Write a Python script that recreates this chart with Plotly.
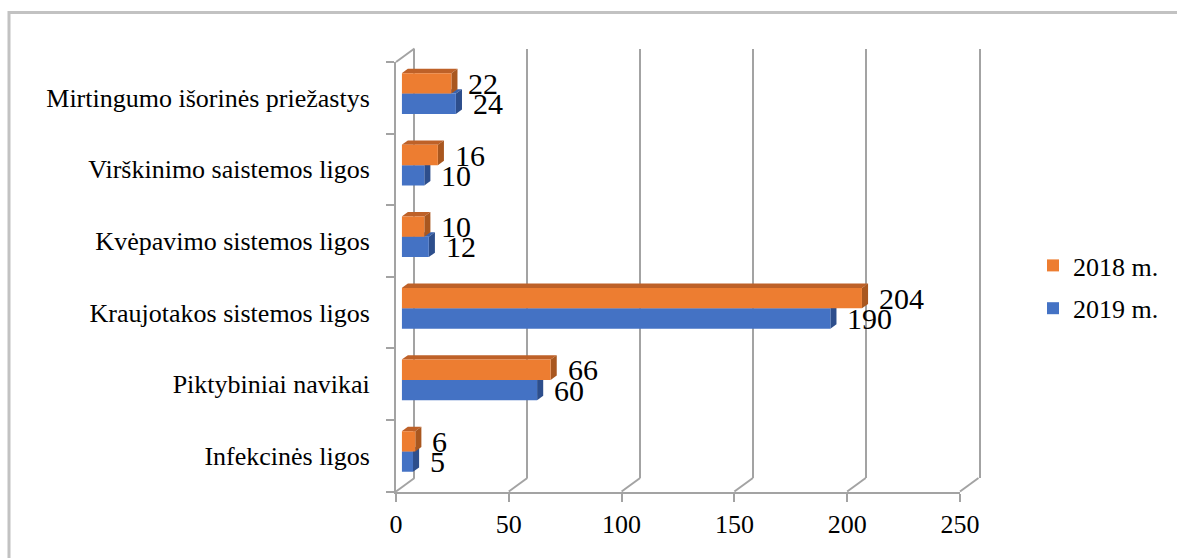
import plotly.graph_objects as go

# ---- data -------------------------------------------------------------
categories = [
    "Infekcinės ligos",
    "Piktybiniai navikai",
    "Kraujotakos sistemos ligos",
    "Kvėpavimo sistemos ligos",
    "Virškinimo saistemos ligos",
    "Mirtingumo išorinės priežastys",
]
values_2018 = [6, 66, 204, 10, 16, 22]
values_2019 = [5, 60, 190, 12, 10, 24]
series_names = ["2018 m.", "2019 m."]
x_ticks = [0, 50, 100, 150, 200, 250]
x_range = [0, 250]

# ---- styling / geometry (pixels) ---------------------------------------
W, H = 1177, 558
FX0, FX1 = 396.0, 960.0      # front floor edge: value 0 .. 250
FY0, FY1 = 62.0, 491.5       # front wall: top .. bottom
DX, DY = 18.5, 13.5          # front plane -> back wall offset
BAR_FRONT = 0.31             # depth fraction of the bar front faces
BAR_DEPTH = 0.33             # depth fraction taken by the bars
BAR_W = 0.284                # bar thickness in category units

ORANGE, ORANGE_TOP, ORANGE_SIDE = "#ED7D31", "#BE6128", "#A9571F"
BLUE, BLUE_TOP, BLUE_SIDE = "#4472C4", "#3A63AE", "#2D4E8C"
GRID = "#A3A3A3"
FONT = "Liberation Serif"

n = len(categories)
y_range = [-0.5, n - 0.5]
px_per_unit = (FX1 - FX0) / (x_range[1] - x_range[0])
px_per_cat = (FY1 - FY0) / n


def px(xp):
    return xp / W


def py(yp):
    return 1 - yp / H


def domains(frac):
    ox, oy = DX * frac, DY * frac
    return [px(FX0 + ox), px(FX1 + ox)], [py(FY1 - oy), py(FY0 - oy)]


back_x, back_y = domains(1.0)
bar_x, bar_y = domains(BAR_FRONT)
front_x, front_y = domains(0.0)

fig = go.Figure()

# empty traces so that the back-wall and front-edge subplots get drawn
for xa, ya in [("x", "y"), ("x3", "y3")]:
    fig.add_trace(go.Scatter(x=[], y=[], xaxis=xa, yaxis=ya,
                             showlegend=False, hoverinfo="skip"))

# bars (front faces) on the bar plane axes
idx = list(range(n))
fig.add_trace(go.Bar(
    x=values_2019, y=idx, orientation="h", width=BAR_W, offset=-BAR_W,
    marker=dict(color=BLUE, line=dict(width=0)), name=series_names[1],
    xaxis="x2", yaxis="y2", legendrank=2, legendgroup="b", hoverinfo="x",
))
fig.add_trace(go.Bar(
    x=values_2018, y=idx, orientation="h", width=BAR_W, offset=0,
    marker=dict(color=ORANGE, line=dict(width=0)), name=series_names[0],
    xaxis="x2", yaxis="y2", legendrank=1, legendgroup="a", hoverinfo="x",
))

# 3-D top and side faces of each bar
ddx = DX * BAR_DEPTH / px_per_unit
ddy = DY * BAR_DEPTH / px_per_cat
shapes = []
for vals, lo, top_c, side_c in [
    (values_2019, -BAR_W, BLUE_TOP, BLUE_SIDE),
    (values_2018, 0.0, ORANGE_TOP, ORANGE_SIDE),
]:
    for i, v in enumerate(vals):
        y0, y1 = i + lo, i + lo + BAR_W
        top = (f"M0,{y1} L{v},{y1} L{v + ddx},{y1 + ddy} "
               f"L{ddx},{y1 + ddy} Z")
        side = (f"M{v},{y0} L{v},{y1} L{v + ddx},{y1 + ddy} "
                f"L{v + ddx},{y0 + ddy} Z")
        for path, c in [(top, top_c), (side, side_c)]:
            shapes.append(dict(type="path", path=path, xref="x2", yref="y2",
                               fillcolor=c, line=dict(width=0),
                               layer="between"))

# floor diagonals joining the front ticks to the back wall grid lines
for t in x_ticks:
    xf = FX0 + (t - x_range[0]) * px_per_unit
    shapes.append(dict(type="line", xref="paper", yref="paper",
                       x0=px(xf), y0=py(FY1), x1=px(xf + DX), y1=py(FY1 - DY),
                       line=dict(color=GRID, width=2), layer="below"))
# top edge of the side wall
shapes.append(dict(type="line", xref="paper", yref="paper",
                   x0=px(FX0), y0=py(FY0), x1=px(FX0 + DX), y1=py(FY0 - DY),
                   line=dict(color=GRID, width=2), layer="below"))
# outer frame
shapes.append(dict(type="rect", xref="paper", yref="paper",
                   x0=px(9), y0=py(12.5), x1=px(W + 20), y1=py(H + 20),
                   line=dict(color="#C2C2C2", width=3), layer="below"))

# value labels at the bar ends
annotations = []
for vals, yoff in [(values_2018, BAR_W / 2), (values_2019, -BAR_W / 2)]:
    for i, v in enumerate(vals):
        annotations.append(dict(
            x=v, y=i + yoff, xref="x2", yref="y2", text=str(v),
            showarrow=False, xanchor="left", yanchor="middle", xshift=15,
            yshift=0, font=dict(family=FONT, size=30, color="black"),
        ))

fig.update_layout(
    width=W, height=H,
    margin=dict(l=0, r=0, t=0, b=0, autoexpand=False),
    paper_bgcolor="white", plot_bgcolor="rgba(0,0,0,0)",
    barmode="overlay",
    shapes=shapes, annotations=annotations,
    font=dict(family=FONT, color="black"),
    showlegend=True,
    legend=dict(
        x=px(1033), y=py(287), xanchor="left", yanchor="middle",
        traceorder="grouped", tracegroupgap=6,
        font=dict(family=FONT, size=26, color="black"),
        bgcolor="rgba(0,0,0,0)",
    ),
    # back wall with the vertical grid lines and its left/right edges
    xaxis=dict(domain=back_x, range=x_range, anchor="y", tickvals=x_ticks,
               showgrid=True, gridcolor=GRID, gridwidth=2, zeroline=False,
               showticklabels=False, ticks="", showline=False,
               automargin=False, fixedrange=True),
    yaxis=dict(domain=back_y, range=y_range, anchor="x", showgrid=False,
               zeroline=False, showticklabels=False, ticks="",
               showline=True, mirror=True, linecolor=GRID, linewidth=2,
               automargin=False, fixedrange=True),
    # plane of the bar front faces
    xaxis2=dict(domain=bar_x, range=x_range, anchor="y2", visible=False,
                automargin=False, fixedrange=True),
    yaxis2=dict(domain=bar_y, range=y_range, anchor="x2", visible=False,
                automargin=False, fixedrange=True),
    # front edges with ticks and labels
    xaxis3=dict(domain=front_x, range=x_range, anchor="y3",
                tickvals=x_ticks, ticks="outside", ticklen=8, tickwidth=2,
                tickcolor=GRID, showline=True, linecolor=GRID, linewidth=2,
                showgrid=False, zeroline=False,
                tickfont=dict(family=FONT, size=26, color="black"),
                automargin=False, fixedrange=True),
    yaxis3=dict(domain=front_y, range=y_range, anchor="x3",
                tickvals=idx, ticktext=categories, ticks="",
                ticklabelstandoff=19,
                minor=dict(tickvals=[i - 0.5 for i in range(n + 1)],
                           ticks="outside", ticklen=8, tickwidth=2,
                           tickcolor=GRID, showgrid=False),
                showline=True, linecolor=GRID, linewidth=2,
                showgrid=False, zeroline=False,
                tickfont=dict(family=FONT, size=26, color="black"),
                automargin=False, fixedrange=True),
)

fig.write_html("out.html")
